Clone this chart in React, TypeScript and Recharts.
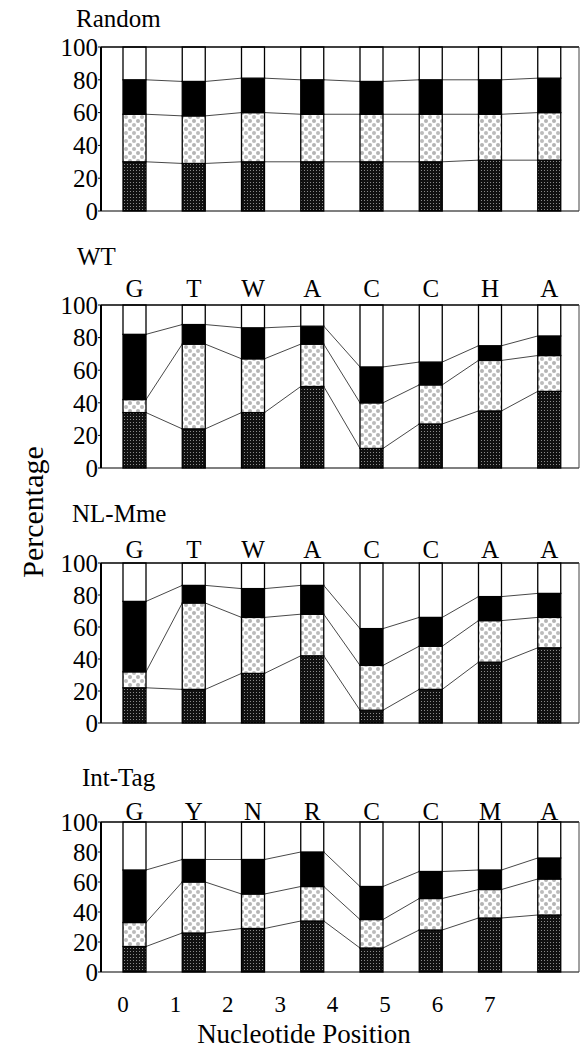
import React from 'react';
import { BarChart, Bar, XAxis, YAxis } from 'recharts';

// nucleotide positions and tick values
const positions = [0, 1, 2, 3, 4, 5, 6, 7];
const percentTicks = [0, 20, 40, 60, 80, 100];

// consensus letters printed over each panel
const randomLetters = ['', '', '', '', '', '', '', ''];
const wtLetters = ['G', 'T', 'W', 'A', 'C', 'C', 'H', 'A'];
const nlLetters = ['G', 'T', 'W', 'A', 'C', 'C', 'A', 'A'];
const intLetters = ['G', 'Y', 'N', 'R', 'C', 'C', 'M', 'A'];

// percentages per segment, bottom to top (dark stipple, light dots, black, white)
const randomDark = [30, 29, 30, 30, 30, 30, 31, 31];
const randomLight = [29, 29, 30, 29, 29, 29, 28, 29];
const randomBlack = [21, 21, 21, 21, 20, 21, 21, 21];
const randomWhite = [20, 21, 19, 20, 21, 20, 20, 19];

const wtDark = [34, 24, 34, 50, 12, 27, 35, 47];
const wtLight = [8, 52, 33, 26, 28, 24, 31, 22];
const wtBlack = [40, 12, 19, 11, 22, 14, 9, 12];
const wtWhite = [18, 12, 14, 13, 38, 35, 25, 19];

const nlDark = [22, 21, 31, 42, 8, 21, 38, 47];
const nlLight = [10, 54, 35, 26, 28, 27, 26, 19];
const nlBlack = [44, 11, 18, 18, 23, 18, 15, 15];
const nlWhite = [24, 14, 16, 14, 41, 34, 21, 19];

const intDark = [17, 26, 29, 34, 16, 28, 36, 38];
const intLight = [16, 34, 23, 23, 19, 21, 19, 24];
const intBlack = [35, 15, 23, 23, 22, 18, 13, 14];
const intWhite = [32, 25, 25, 20, 43, 33, 32, 24];

const FONT = '"Liberation Serif", "Times New Roman", Times, "Noto Serif", "DejaVu Serif", serif';
const CHART_W = 585;
const Y_AXIS_W = 101;
const MARGIN_RIGHT = 5;
const PAD_LEFT = 4;
const BAND = (CHART_W - MARGIN_RIGHT - 1 - Y_AXIS_W - PAD_LEFT) / positions.length;
const KEYS = ['dark', 'light', 'black', 'white'];
const FILLS = ['url(#darkDots)', 'url(#lightDots)', '#000', '#fff'];

type Row = { pos: number; letter: string; dark: number; light: number; black: number; white: number };

const buildRows = (letters: string[], dark: number[], light: number[], black: number[], white: number[]): Row[] =>
  positions.map((p, i) => ({ pos: p, letter: letters[i], dark: dark[i], light: light[i], black: black[i], white: white[i] }));

const cumTop = (row: Row, k: number) => {
  let s = 0;
  for (let j = 0; j <= k; j++) s += (row as any)[KEYS[j]];
  return s;
};

const makeShape = (rows: Row[], k: number) => (props: any) => {
  const { x, y, width, height, index } = props;
  const row = rows[index];
  const seg = (row as any)[KEYS[k]];
  const unit = seg > 0 ? height / seg : 0;
  let connector = null;
  if (k < 3 && index < rows.length - 1) {
    const yNext = y + (cumTop(row, k) - cumTop(rows[index + 1], k)) * unit;
    connector = (
      <line x1={x + width} y1={y} x2={x + BAND} y2={yNext} stroke="#333" strokeWidth={0.9} />
    );
  }
  return (
    <g>
      <rect x={x} y={y} width={width} height={height} fill={FILLS[k]} stroke="#000" strokeWidth={1.3} />
      {connector}
    </g>
  );
};

const panels = [
  { name: 'Random', rows: buildRows(randomLetters, randomDark, randomLight, randomBlack, randomWhite), plotTop: 47, plotBottom: 211, letterGap: 8 },
  { name: 'WT', rows: buildRows(wtLetters, wtDark, wtLight, wtBlack, wtWhite), plotTop: 305, plotBottom: 468, letterGap: 8 },
  { name: 'NL-Mme', rows: buildRows(nlLetters, nlDark, nlLight, nlBlack, nlWhite), plotTop: 563, plotBottom: 723, letterGap: 5 },
  { name: 'Int-Tag', rows: buildRows(intLetters, intDark, intLight, intBlack, intWhite), plotTop: 822, plotBottom: 972, letterGap: 2 },
];

const titles = [
  { text: 'Random', x: 76, y: 27 },
  { text: 'WT', x: 77, y: 265 },
  { text: 'NL-Mme', x: 72, y: 522 },
  { text: 'Int-Tag', x: 82, y: 786 },
];

const Panel = ({ panel }: { panel: typeof panels[number] }) => {
  const top = 40;
  const bottom = 20;
  const h = panel.plotBottom - panel.plotTop + top + bottom;
  const tickStyle = { fill: '#000', fontSize: 25, fontFamily: FONT };
  return (
    <div style={{ position: 'absolute', left: 0, top: panel.plotTop - top, width: CHART_W, height: h }}>
      <BarChart width={CHART_W} height={h} data={panel.rows}
        margin={{ top: top - 1, right: MARGIN_RIGHT, left: 0, bottom: bottom - 1 }}>
        <defs>
          <pattern id="darkDots" width={3} height={3} patternUnits="userSpaceOnUse">
            <rect width={3} height={3} fill="#111" />
            <rect x={1} y={1} width={1} height={1} fill="#8a8a8a" />
          </pattern>
          <pattern id="lightDots" width={8} height={8} patternUnits="userSpaceOnUse">
            <rect width={8} height={8} fill="#fff" />
            <circle cx={2} cy={2} r={2} fill="#b4b4b4" />
            <circle cx={6} cy={6} r={2} fill="#bcbcbc" />
          </pattern>
        </defs>
        <XAxis dataKey="pos" height={1} tick={false} tickLine={false} padding={{ left: PAD_LEFT, right: 0 }}
          axisLine={{ stroke: '#000', strokeWidth: 1.2 }} />
        <XAxis xAxisId="top" orientation="top" dataKey="letter" height={1} tickLine={false} tickSize={0}
          tickMargin={panel.letterGap} padding={{ left: PAD_LEFT, right: 0 }} interval={0}
          tick={panel.name === 'Random' ? false : { fill: '#000', fontSize: 25, fontFamily: FONT }}
          axisLine={{ stroke: '#000', strokeWidth: 1.4 }} />
        <YAxis domain={[0, 100]} ticks={percentTicks} interval={0} width={Y_AXIS_W} tickSize={3} tickMargin={0}
          tick={tickStyle} tickLine={{ stroke: '#000' }} axisLine={{ stroke: '#000', strokeWidth: 2 }} />
        <YAxis yAxisId="right" orientation="right" domain={[0, 100]} width={1} tick={false} tickLine={false}
          axisLine={{ stroke: '#444', strokeWidth: 1 }} />
        {KEYS.map((key, k) => (
          <Bar key={key} dataKey={key} stackId="s" barSize={23} isAnimationActive={false}
            shape={makeShape(panel.rows, k)} />
        ))}
      </BarChart>
    </div>
  );
};

export default function App() {
  return (
    <div style={{ position: 'absolute', left: 0, top: 0, width: 585, height: 1051, background: '#fff' }}>
      {panels.map((p) => (
        <Panel key={p.name} panel={p} />
      ))}
      <svg width={585} height={1051} style={{ position: 'absolute', left: 0, top: 0, pointerEvents: 'none' }}>
        {titles.map((t) => (
          <text key={t.text} x={t.x} y={t.y} fontSize={25} fontFamily={FONT} fill="#000">{t.text}</text>
        ))}
        {positions.map((p, i) => (
          <text key={p} x={123 + i * 52.4} y={1012} fontSize={23} fontFamily={FONT} fill="#000" textAnchor="middle">{p}</text>
        ))}
        <text x={304} y={1043} fontSize={27} fontFamily={FONT} fill="#000" textAnchor="middle">Nucleotide Position</text>
        <text x={43} y={512} fontSize={30} fontFamily={FONT} fill="#000" textAnchor="middle"
          transform="rotate(-90, 43, 512)">Percentage</text>
      </svg>
    </div>
  );
}
